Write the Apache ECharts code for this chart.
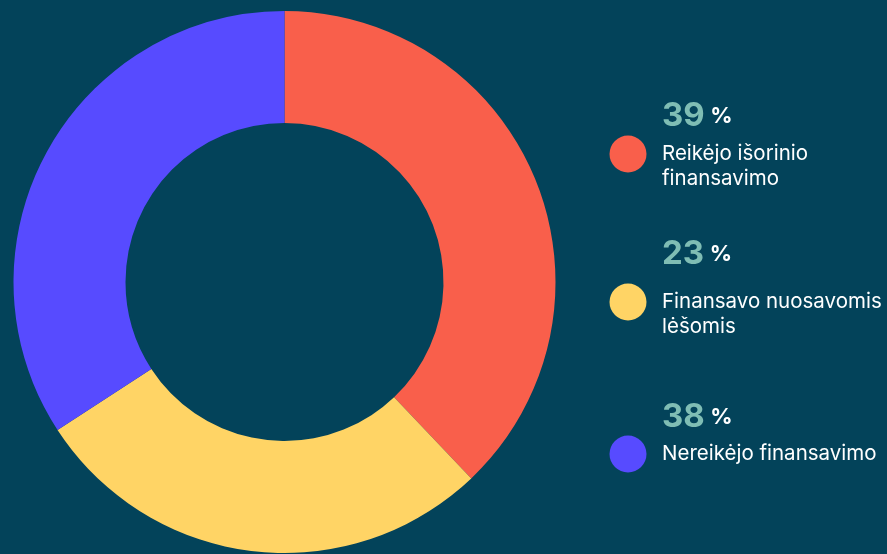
<!DOCTYPE html>
<html lang="lt">

<head>
    <meta charset="UTF-8">
    <title>Finansavimas</title>
    <script src="https://cdn.jsdelivr.net/npm/echarts@6/dist/echarts.min.js"></script>
    <style>
        html, body { margin: 0; padding: 0; background: #03435a; }
    </style>
</head>

<body>
    <div id="main" style="width: 887px;height:554px;"></div>
    <script type="text/javascript">
        // data
        var names = ['Reikėjo išorinio\nfinansavimo', 'Finansavo nuosavomis\nlėšomis', 'Nereikėjo finansavimo'];
        // slice sizes as drawn in the picture
        var sliceValues = [37.9, 27.9, 34.2];
        // numbers printed next to the legend
        var percentLabels = [39, 23, 38];
        var colors = ['#f95f4b', '#ffd465', '#574bff'];

        // legend layout: circle centre y and number centre y for each row
        var rowY = [154, 302, 454];
        var numY = [116, 254, 417];

        var myChart = echarts.init(document.getElementById('main'));

        // legend drawn by hand so the circle sits on the first text line
        var graphics = [];
        names.forEach(function (n, i) {
            graphics.push({
                type: 'circle',
                shape: { cx: 628, cy: rowY[i], r: 18.5 },
                style: { fill: colors[i] }
            });
            graphics.push({
                type: 'text',
                x: 662,
                y: rowY[i] - 12,
                style: {
                    text: n,
                    fill: '#ffffff',
                    font: '20.5px Inter',
                    lineHeight: 24.5,
                    verticalAlign: 'top'
                }
            });
            graphics.push({
                type: 'text',
                x: 662,
                y: numY[i],
                style: {
                    text: '{n|' + percentLabels[i] + '}{s| }{p|%}',
                    verticalAlign: 'middle',
                    rich: {
                        n: { fontFamily: 'Inter', fontWeight: 'bold', fontSize: 33, fill: '#7fbdb4' },
                        s: { fontSize: 20 },
                        p: { fontFamily: 'Inter', fontWeight: 'bold', fontSize: 22, fill: '#ffffff' }
                    }
                }
            });
        });

        myChart.setOption({
            backgroundColor: '#03435a',
            color: colors,
            animation: false,
            graphic: graphics,
            series: [{
                type: 'pie',
                center: [284.5, 282],
                radius: [159, 271],
                startAngle: 90,
                clockwise: true,
                label: { show: false },
                labelLine: { show: false },
                emphasis: { disabled: true },
                data: names.map(function (n, i) {
                    return { name: n, value: sliceValues[i] };
                })
            }]
        });
    </script>
</body>

</html>
